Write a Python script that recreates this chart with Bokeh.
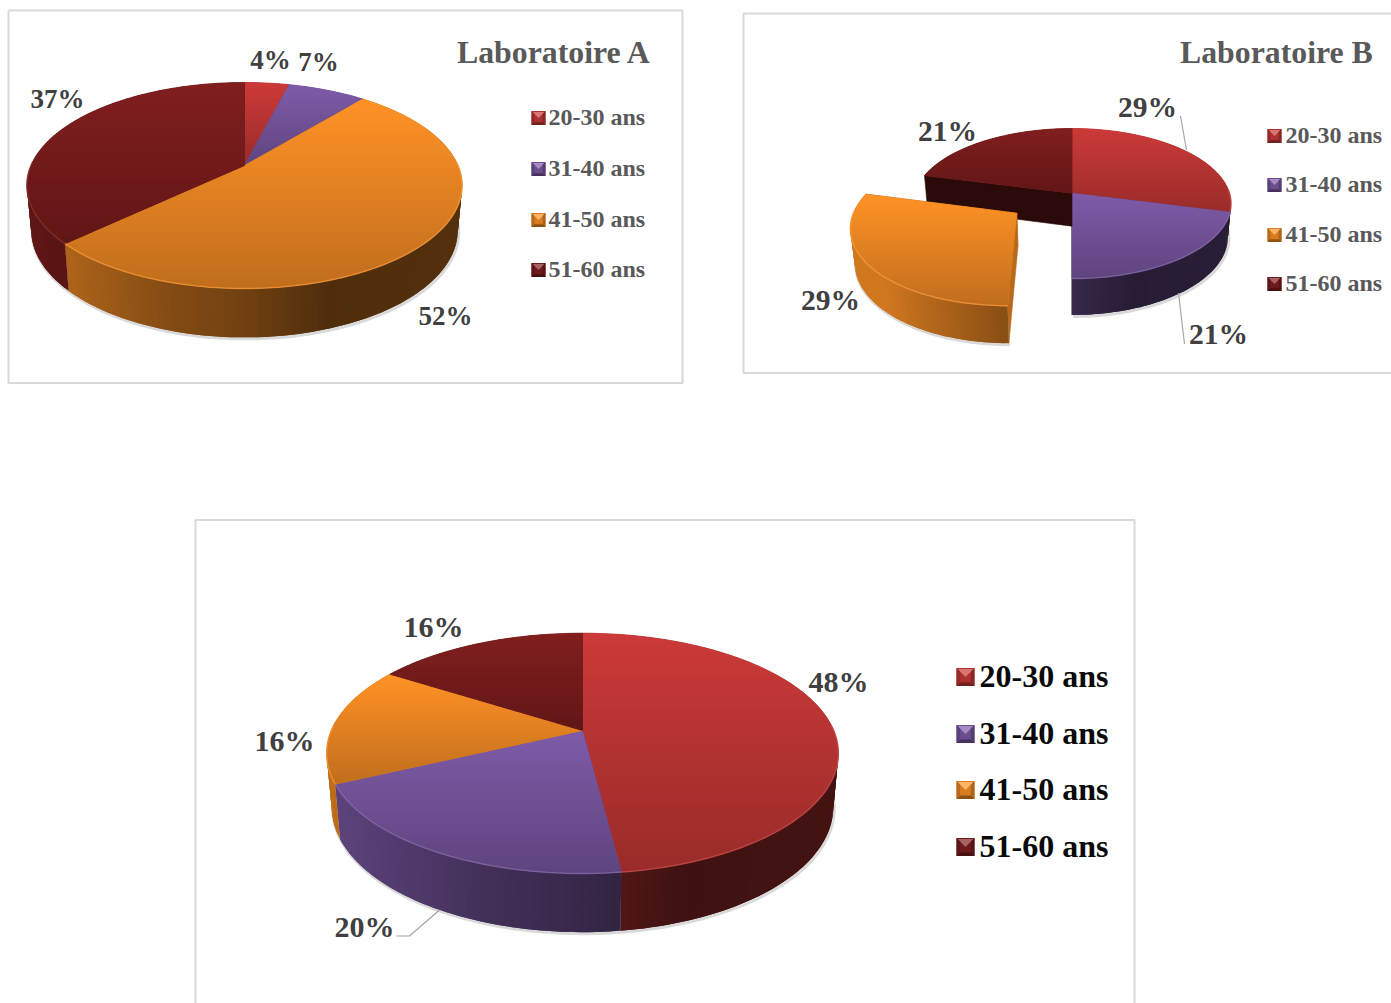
import math
from bokeh.plotting import figure
from bokeh.models import ColumnDataSource
from bokeh.core.properties import value
from bokeh.embed import file_html
from bokeh.resources import INLINE

# Age groups and the share of each one per laboratory (percent)
AGE_GROUPS = ["20-30 ans", "31-40 ans", "41-50 ans", "51-60 ans"]
LAB_A = [4, 7, 52, 37]
LAB_B = [29, 21, 29, 21]
LAB_ALL = [48, 20, 16, 16]
TITLE_A = "Laboratoire A"
TITLE_B = "Laboratoire B"

BASE = ["#CB3A38", "#7E5BA8", "#FF9226", "#811E1E"]
FONT = value("Liberation Serif")
W, H = 1391, 1003


def rgb(c):
    return tuple(int(c[i:i + 2], 16) for i in (1, 3, 5))


def shade(c, f):
    r = rgb(c)
    if f <= 1:
        out = [v * f for v in r]
    else:
        out = [v + (255 - v) * (f - 1) for v in r]
    return "#%02x%02x%02x" % tuple(int(round(v)) for v in out)


def side_factor(t):
    # brightness of the rim, from the left of the disc (-1) to the right (+1)
    pts = [(-1.2, 0.82), (-1.0, 0.74), (-0.4, 0.53), (0.0, 0.44), (0.4, 0.31), (1.0, 0.33)]
    for (a, fa), (b, fb) in zip(pts, pts[1:]):
        if t <= b:
            return fa + (fb - fa) * (max(t, a) - a) / (b - a)
    return pts[-1][1]


def clip(poly, lim, keep_below):
    out = []
    inside = (lambda p: p[1] <= lim) if keep_below else (lambda p: p[1] >= lim)
    for i, a in enumerate(poly):
        b = poly[(i + 1) % len(poly)]
        if inside(a):
            out.append(a)
        if inside(a) != inside(b):
            t = (lim - a[1]) / (b[1] - a[1])
            out.append((a[0] + t * (b[0] - a[0]), lim))
    return out


class Pie3D:
    """Disc seen in perspective: a circle sent through a projective map."""

    def __init__(self, cx, cy, sx, sy, k, depth):
        self.cx, self.cy, self.sx, self.sy, self.k, self.depth = cx, cy, sx, sy, k, depth

    def top(self, u, v):
        d = 1 + self.k * v
        return (self.cx + self.sx * u / d, self.cy - self.sy * v / d)

    def bottom(self, p):
        return (self.cx + (p[0] - self.cx) * 0.98,
                self.cy + (p[1] - self.cy) * 1.04 + self.depth)


patch_x, patch_y, patch_fill, patch_line = [], [], [], []
shadow_x, shadow_y, rim_x, rim_y, rim_c = [], [], [], [], []


def add_patch(poly, fill, stroke=0.0):
    patch_x.append([q[0] for q in poly])
    patch_y.append([q[1] for q in poly])
    patch_fill.append(fill)
    patch_line.append(stroke)


def draw_pie(pie, shares, exploded=None, burst=0.0):
    total = sum(shares)
    spans, acc = [], 0.0
    for s in shares:
        spans.append((acc / total * 2 * math.pi, (acc + s) / total * 2 * math.pi))
        acc += s
    order = [i for i in range(len(shares)) if i != exploded]
    if exploded is not None:
        order.append(exploded)

    for i in order:
        a0, a1 = spans[i]
        ou, ov = 0.0, 0.0
        if i == exploded:
            mid = (a0 + a1) / 2
            ou, ov = burst * math.sin(mid), burst * math.cos(mid)
        n = max(4, int((a1 - a0) / math.radians(1.5)))
        angles = [a0 + (a1 - a0) * j / n for j in range(n + 1)]
        arc = [(ou + math.sin(a), ov + math.cos(a)) for a in angles]
        rim = [pie.top(u, v) for u, v in arc]
        apex = pie.top(ou, ov)

        # cut faces exist only around a slice pulled out of the disc
        if exploded is not None:
            neighbours = {(exploded + 1) % len(shares): "start", (exploded - 1) % len(shares): "end"}
            ends = []
            if i == exploded:
                ends = [rim[0], rim[-1]]
            elif i in neighbours:
                ends = [rim[0]] if neighbours[i] == "start" else [rim[-1]]
            for e in ends:
                f = 0.72 if i == exploded else 0.33
                wall = [apex, e, pie.bottom(e), pie.bottom(apex)]
                add_patch(wall, shade(BASE[i], f), 0.6)

        # outer wall: overlapping vertical strips, painted so no seams show
        for j in range(n):
            if arc[j][1] - ov > 0.05 and arc[j + 1][1] - ov > 0.05:
                continue
            a, b = rim[j], rim[j + 1]
            c = rim[min(j + 2, n)]
            t = ((a[0] + b[0]) / 2 - pie.cx) / pie.sx
            add_patch([a, b, c, pie.bottom(c), pie.bottom(b), pie.bottom(a)],
                      shade(BASE[i], side_factor(t)))
            shadow_x.append([pie.bottom(a)[0] + 1, pie.bottom(b)[0] + 1])
            shadow_y.append([pie.bottom(a)[1] + 1.5, pie.bottom(b)[1] + 1.5])

        # upper face, shaded from top to bottom
        poly = [apex] + rim
        add_patch(poly, shade(BASE[i], 0.85), 0.8)
        y0 = min(q[1] for q in poly)
        y1 = max(q[1] for q in poly)
        steps = max(1, int((y1 - y0) / 2))
        for s in range(steps):
            a = y0 + (y1 - y0) * s / steps
            b = y0 + (y1 - y0) * (s + 1) / steps + 1
            band = clip(clip(poly, a, False), b, True)
            if len(band) >= 3:
                add_patch(band, shade(BASE[i], 1 - 0.25 * s / steps))

        # lighter edge where the upper face meets the wall
        front = [rim[j] for j in range(n + 1) if arc[j][1] - ov < 0.05]
        if len(front) > 1:
            rim_x.append([q[0] for q in front])
            rim_y.append([q[1] for q in front])
            rim_c.append(shade(BASE[i], 1.12))


PIE_A = Pie3D(245, 165.5, 213.5, 99.1, 0.194, 44)
PIE_B = Pie3D(1072.5, 193.2, 157.5, 73.6, 0.138, 33)
PIE_C = Pie3D(583, 730.5, 251.2, 115.8, 0.19, 53)

draw_pie(PIE_A, LAB_A)
draw_pie(PIE_B, LAB_B, exploded=2, burst=0.4274)
draw_pie(PIE_C, LAB_ALL)

p = figure(width=W, height=H, x_range=(1, W + 1), y_range=(H + 0.5, 0.5), output_backend="svg",
           toolbar_location=None, min_border=0, outline_line_color=None,
           background_fill_color="white", border_fill_color="white")
p.xaxis.visible = False
p.yaxis.visible = False
p.xgrid.visible = False
p.ygrid.visible = False

# chart frames
FRAME = "#D9D9D9"
p.multi_line(
    xs=[[9, 683, 683, 9, 9], [1393, 744, 744, 1393], [196, 196, 1135, 1135]],
    ys=[[10.5, 10.5, 383, 383, 10.5], [13.5, 13.5, 373, 373], [1005, 520, 520, 1005]],
    line_color=FRAME, line_width=2,
)

p.multi_line(xs=shadow_x, ys=shadow_y, line_color="#808080", line_alpha=0.3, line_width=3)

src = ColumnDataSource(dict(x=patch_x, y=patch_y, fill=patch_fill, lw=patch_line))
p.patches("x", "y", source=src, fill_color="fill", line_color="fill", line_width="lw")
p.multi_line(xs=rim_x, ys=rim_y, line_color=rim_c, line_width=1.5, line_alpha=0.6)

# leader lines
p.multi_line(
    xs=[[1181, 1187], [1179, 1185], [397, 410, 440]],
    ys=[[116, 150], [293, 344], [936, 936, 910]],
    line_color="#A6A6A6", line_width=1.2,
)


def put_text(x, y, s, size, color, align="center"):
    p.text(x=[x + 1], y=[y], text=[s], text_font=FONT, text_font_style="bold",
           text_font_size=size, text_color=color, text_align=align, text_baseline="middle")


def pct(v):
    return f"{v}%"


LABEL_INK = "#404040"
for x, y, v in zip((270, 318, 445, 57), (60, 62, 316, 99), LAB_A):
    put_text(x, y, pct(v), "27px", LABEL_INK)
for x, y, v in zip((1147, 1218, 830, 947), (107, 334, 300, 131), LAB_B):
    put_text(x, y, pct(v), "29.5px", LABEL_INK)
for x, y, v in zip((838, 364, 284, 433), (681, 926, 740, 626), LAB_ALL):
    put_text(x, y, pct(v), "30px", LABEL_INK)

put_text(456.5, 52, TITLE_A, "31.8px", "#595959", "left")
put_text(1179.5, 52, TITLE_B, "31.8px", "#595959", "left")


def legend(x_box, x_text, rows, box, size, ink):
    for y, name, col in zip(rows, AGE_GROUPS, BASE):
        x0, x1 = x_box + 1, x_box + box + 1
        y0, y1 = y - box / 2, y + box / 2
        mx, my = (x0 + x1) / 2, (y0 + y1) / 2
        m = box * 0.2
        p.patches(
            xs=[[x0, x1, x1, x0], [x0 + 1, x1 - 1, mx], [x0, x0 + m, x0 + m, x0], [x1, x1 - m, x1 - m, x1],
                [x0, x1, x1 - m, x0 + m]],
            ys=[[y0, y0, y1, y1], [y0 + 1, y0 + 1, my], [y0, y0 + m, y1 - m, y1], [y0, y0 + m, y1 - m, y1],
                [y1, y1, y1 - m, y1 - m]],
            fill_color=[shade(col, 0.85), shade(col, 1.3), shade(col, 0.72), shade(col, 0.68), shade(col, 0.55)],
            line_color=None,
        )
        put_text(x_text, y - 1.5, name, size, ink, "left")


legend(531, 548, (118, 169, 220, 270), 14, "24px", "#595959")
legend(1267, 1285, (136, 185, 235, 284), 14, "24px", "#595959")
legend(956, 979, (677, 734, 790, 847), 18, "32px", "#0A0A0A")

open("out.html", "w").write(file_html(p, INLINE))
